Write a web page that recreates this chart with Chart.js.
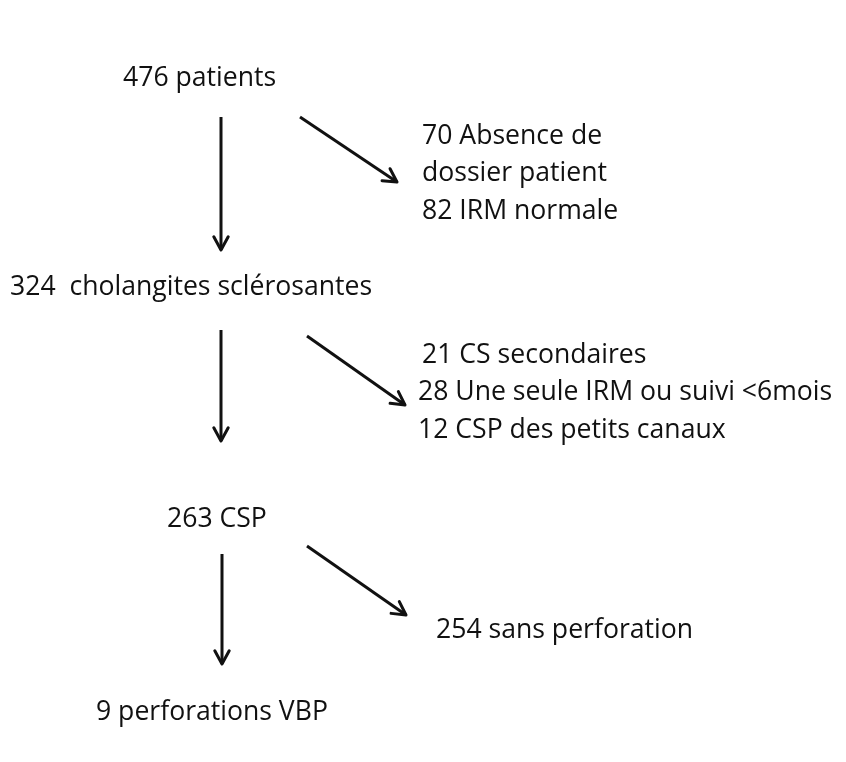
<!DOCTYPE html>
<html>
<head>
<meta charset="utf-8">
<script src="https://cdn.jsdelivr.net/npm/chart.js@4.4.0/dist/chart.umd.min.js"></script>
<style>
  body { margin: 0; background: #fff; }
  #wrap { width: 846px; height: 762px; }
</style>
</head>
<body>
<div id="wrap"><canvas id="flow"></canvas></div>
<script>
// flow chart boxes (text, left x, middle y in page units)
const labels = [
  '476 patients',
  '70 Absence de',
  'dossier patient',
  '82 IRM normale',
  '324  cholangites sclérosantes',
  '21 CS secondaires',
  '28 Une seule IRM ou suivi <6mois',
  '12 CSP des petits canaux',
  '263 CSP',
  '254 sans perforation',
  '9 perforations VBP'
];
const labelX = [123, 422, 422, 422, 10, 422, 418, 418, 167, 436, 96];
const labelY = [78, 136, 173, 211, 287, 355, 392, 430, 519, 630, 712];

// arrows: start and end points
const arrowX0 = [221, 300, 221, 307, 222, 307];
const arrowY0 = [117, 117, 330, 336, 554, 546];
const arrowX1 = [221, 397, 221, 405, 222, 406];
const arrowY1 = [250, 182, 441, 405, 664, 615];

const ink = '#111';

let datasets = [{
  label: 'boxes',
  data: labels.map((t, i) => ({x: labelX[i], y: labelY[i]})),
  pointRadius: 0,
  showLine: false
}];
for (let i = 0; i < arrowX0.length; i++) {
  datasets.push({
    label: 'arrow' + i,
    data: [{x: arrowX0[i], y: arrowY0[i]}, {x: arrowX1[i], y: arrowY1[i]}],
    showLine: true,
    borderColor: ink,
    borderWidth: 3,
    pointRadius: 0,
    fill: false
  });
}

const flowPlugin = {
  id: 'flow',
  afterDatasetsDraw(chart) {
    const ctx = chart.ctx;
    ctx.save();
    // arrow heads
    ctx.strokeStyle = ink;
    ctx.lineWidth = 3;
    ctx.lineCap = 'round';
    ctx.lineJoin = 'round';
    for (let i = 1; i < chart.data.datasets.length; i++) {
      const pts = chart.getDatasetMeta(i).data;
      const a = pts[0], b = pts[1];
      const ang = Math.atan2(b.y - a.y, b.x - a.x);
      const len = 15, spread = 0.5;
      ctx.beginPath();
      ctx.moveTo(b.x - len * Math.cos(ang - spread), b.y - len * Math.sin(ang - spread));
      ctx.lineTo(b.x, b.y);
      ctx.lineTo(b.x - len * Math.cos(ang + spread), b.y - len * Math.sin(ang + spread));
      ctx.stroke();
    }
    // texts
    ctx.fillStyle = ink;
    ctx.font = '26.6px "Open Sans"';
    ctx.textAlign = 'left';
    ctx.textBaseline = 'middle';
    const pts = chart.getDatasetMeta(0).data;
    labels.forEach((t, i) => ctx.fillText(t, pts[i].x, pts[i].y));
    ctx.restore();
  }
};

new Chart(document.getElementById('flow'), {
  type: 'scatter',
  data: { datasets: datasets },
  options: {
    responsive: true,
    maintainAspectRatio: false,
    animation: false,
    layout: { padding: 0 },
    plugins: { legend: { display: false }, tooltip: { enabled: false } },
    scales: {
      x: { type: 'linear', min: 0, max: 846, display: false },
      y: { type: 'linear', min: 0, max: 762, reverse: true, display: false }
    }
  },
  plugins: [flowPlugin]
});
</script>
</body>
</html>
